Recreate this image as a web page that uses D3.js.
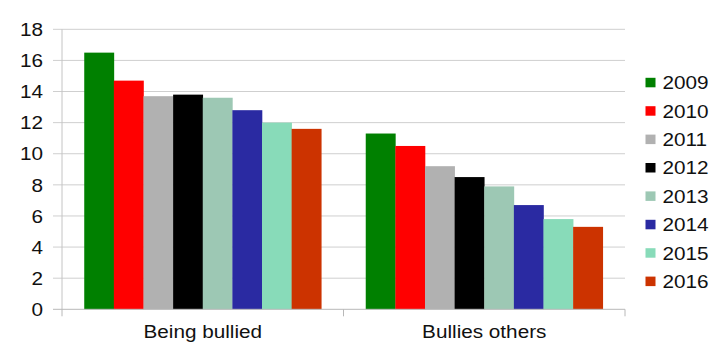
<!DOCTYPE html>
<html>
<head>
<meta charset="utf-8">
<script src="https://cdn.jsdelivr.net/npm/d3@7"></script>
<style>
  html, body { margin: 0; padding: 0; background: #fff; }
  svg { display: block; }
  text { font-family: "Liberation Sans", Arial, sans-serif; fill: #111; }
</style>
</head>
<body>
<svg id="chart" width="725" height="345"></svg>
<script>
// Chart data
const categories = ["Being bullied", "Bullies others"];
const years = ["2009", "2010", "2011", "2012", "2013", "2014", "2015", "2016"];
const beingBullied = [16.5, 14.7, 13.7, 13.8, 13.6, 12.8, 12.0, 11.6];
const bulliesOthers = [11.3, 10.5, 9.2, 8.5, 7.9, 6.7, 5.8, 5.3];
const yearColors = ["#008000", "#ff0000", "#b1b1b1", "#000000", "#9dc8b4", "#2a2aa2", "#88dbb9", "#cc3300"];
const yTicks = [0, 2, 4, 6, 8, 10, 12, 14, 16, 18];

const seriesByCategory = [beingBullied, bulliesOthers];

const svg = d3.select("#chart");
const plot = { left: 62, right: 625, top: 29.3, bottom: 309.3 };
const fontSize = 18.5, stretch = 1.12;

const y = d3.scaleLinear().domain([0, 18]).range([plot.bottom, plot.top]);
const x0 = d3.scaleBand().domain(categories).range([plot.left, plot.right]).padding(0);
const bw = x0.bandwidth();
const x1 = d3.scaleBand().domain(years).range([bw * 0.079, bw * 0.921]).padding(0);
const color = d3.scaleOrdinal().domain(years).range(yearColors);

// Horizontal gridlines with short ticks left of the axis
svg.append("g").selectAll("line").data(yTicks.filter(t => t > 0)).join("line")
  .attr("x1", plot.left - 9).attr("x2", plot.right)
  .attr("y1", d => y(d)).attr("y2", d => y(d))
  .attr("stroke", "#cfcfcf").attr("stroke-width", 1);

// Y axis line
svg.append("line")
  .attr("x1", plot.left).attr("x2", plot.left)
  .attr("y1", plot.top).attr("y2", plot.bottom)
  .attr("stroke", "#c4c4c4");

// Y tick labels (slightly wide lettering)
function stretchedText(sel, x, yy, txt, anchor) {
  return sel.append("text")
    .attr("transform", `translate(${x},${yy}) scale(${stretch},1)`)
    .attr("text-anchor", anchor)
    .attr("dy", "0.36em")
    .style("font-size", fontSize + "px")
    .text(txt);
}
const yLabels = svg.append("g");
yTicks.forEach(t => stretchedText(yLabels, 43, y(t), String(t), "end"));

// Bars
const groups = svg.append("g").selectAll("g").data(categories).join("g")
  .attr("transform", d => `translate(${x0(d)},0)`);
groups.selectAll("rect")
  .data((c, i) => years.map((yr, j) => ({ year: yr, value: seriesByCategory[i][j] })))
  .join("rect")
  .attr("x", d => x1(d.year))
  .attr("width", x1.bandwidth() + 0.3)
  .attr("y", d => y(d.value))
  .attr("height", d => y(0) - y(d.value))
  .attr("fill", d => color(d.year));

// Category axis: baseline and boundary ticks
svg.append("line")
  .attr("x1", plot.left - 9).attr("x2", plot.right)
  .attr("y1", plot.bottom).attr("y2", plot.bottom)
  .attr("stroke", "#b8b8b8");
const boundaries = categories.map(c => x0(c)).concat([plot.right]);
svg.append("g").selectAll("line").data(boundaries).join("line")
  .attr("x1", d => d).attr("x2", d => d)
  .attr("y1", plot.bottom).attr("y2", plot.bottom + 7)
  .attr("stroke", "#b8b8b8");

// Category labels
const xLabels = svg.append("g");
categories.forEach(c => stretchedText(xLabels, x0(c) + bw / 2, 331, c, "middle"));

// Legend
const legend = svg.append("g");
years.forEach((yr, i) => {
  const cy = 82.5 + i * 28.4;
  legend.append("rect")
    .attr("x", 645.5).attr("y", cy - 4.7)
    .attr("width", 10).attr("height", 9.5)
    .attr("fill", color(yr));
  stretchedText(legend, 662.5, cy, yr, "start");
});
</script>
</body>
</html>
